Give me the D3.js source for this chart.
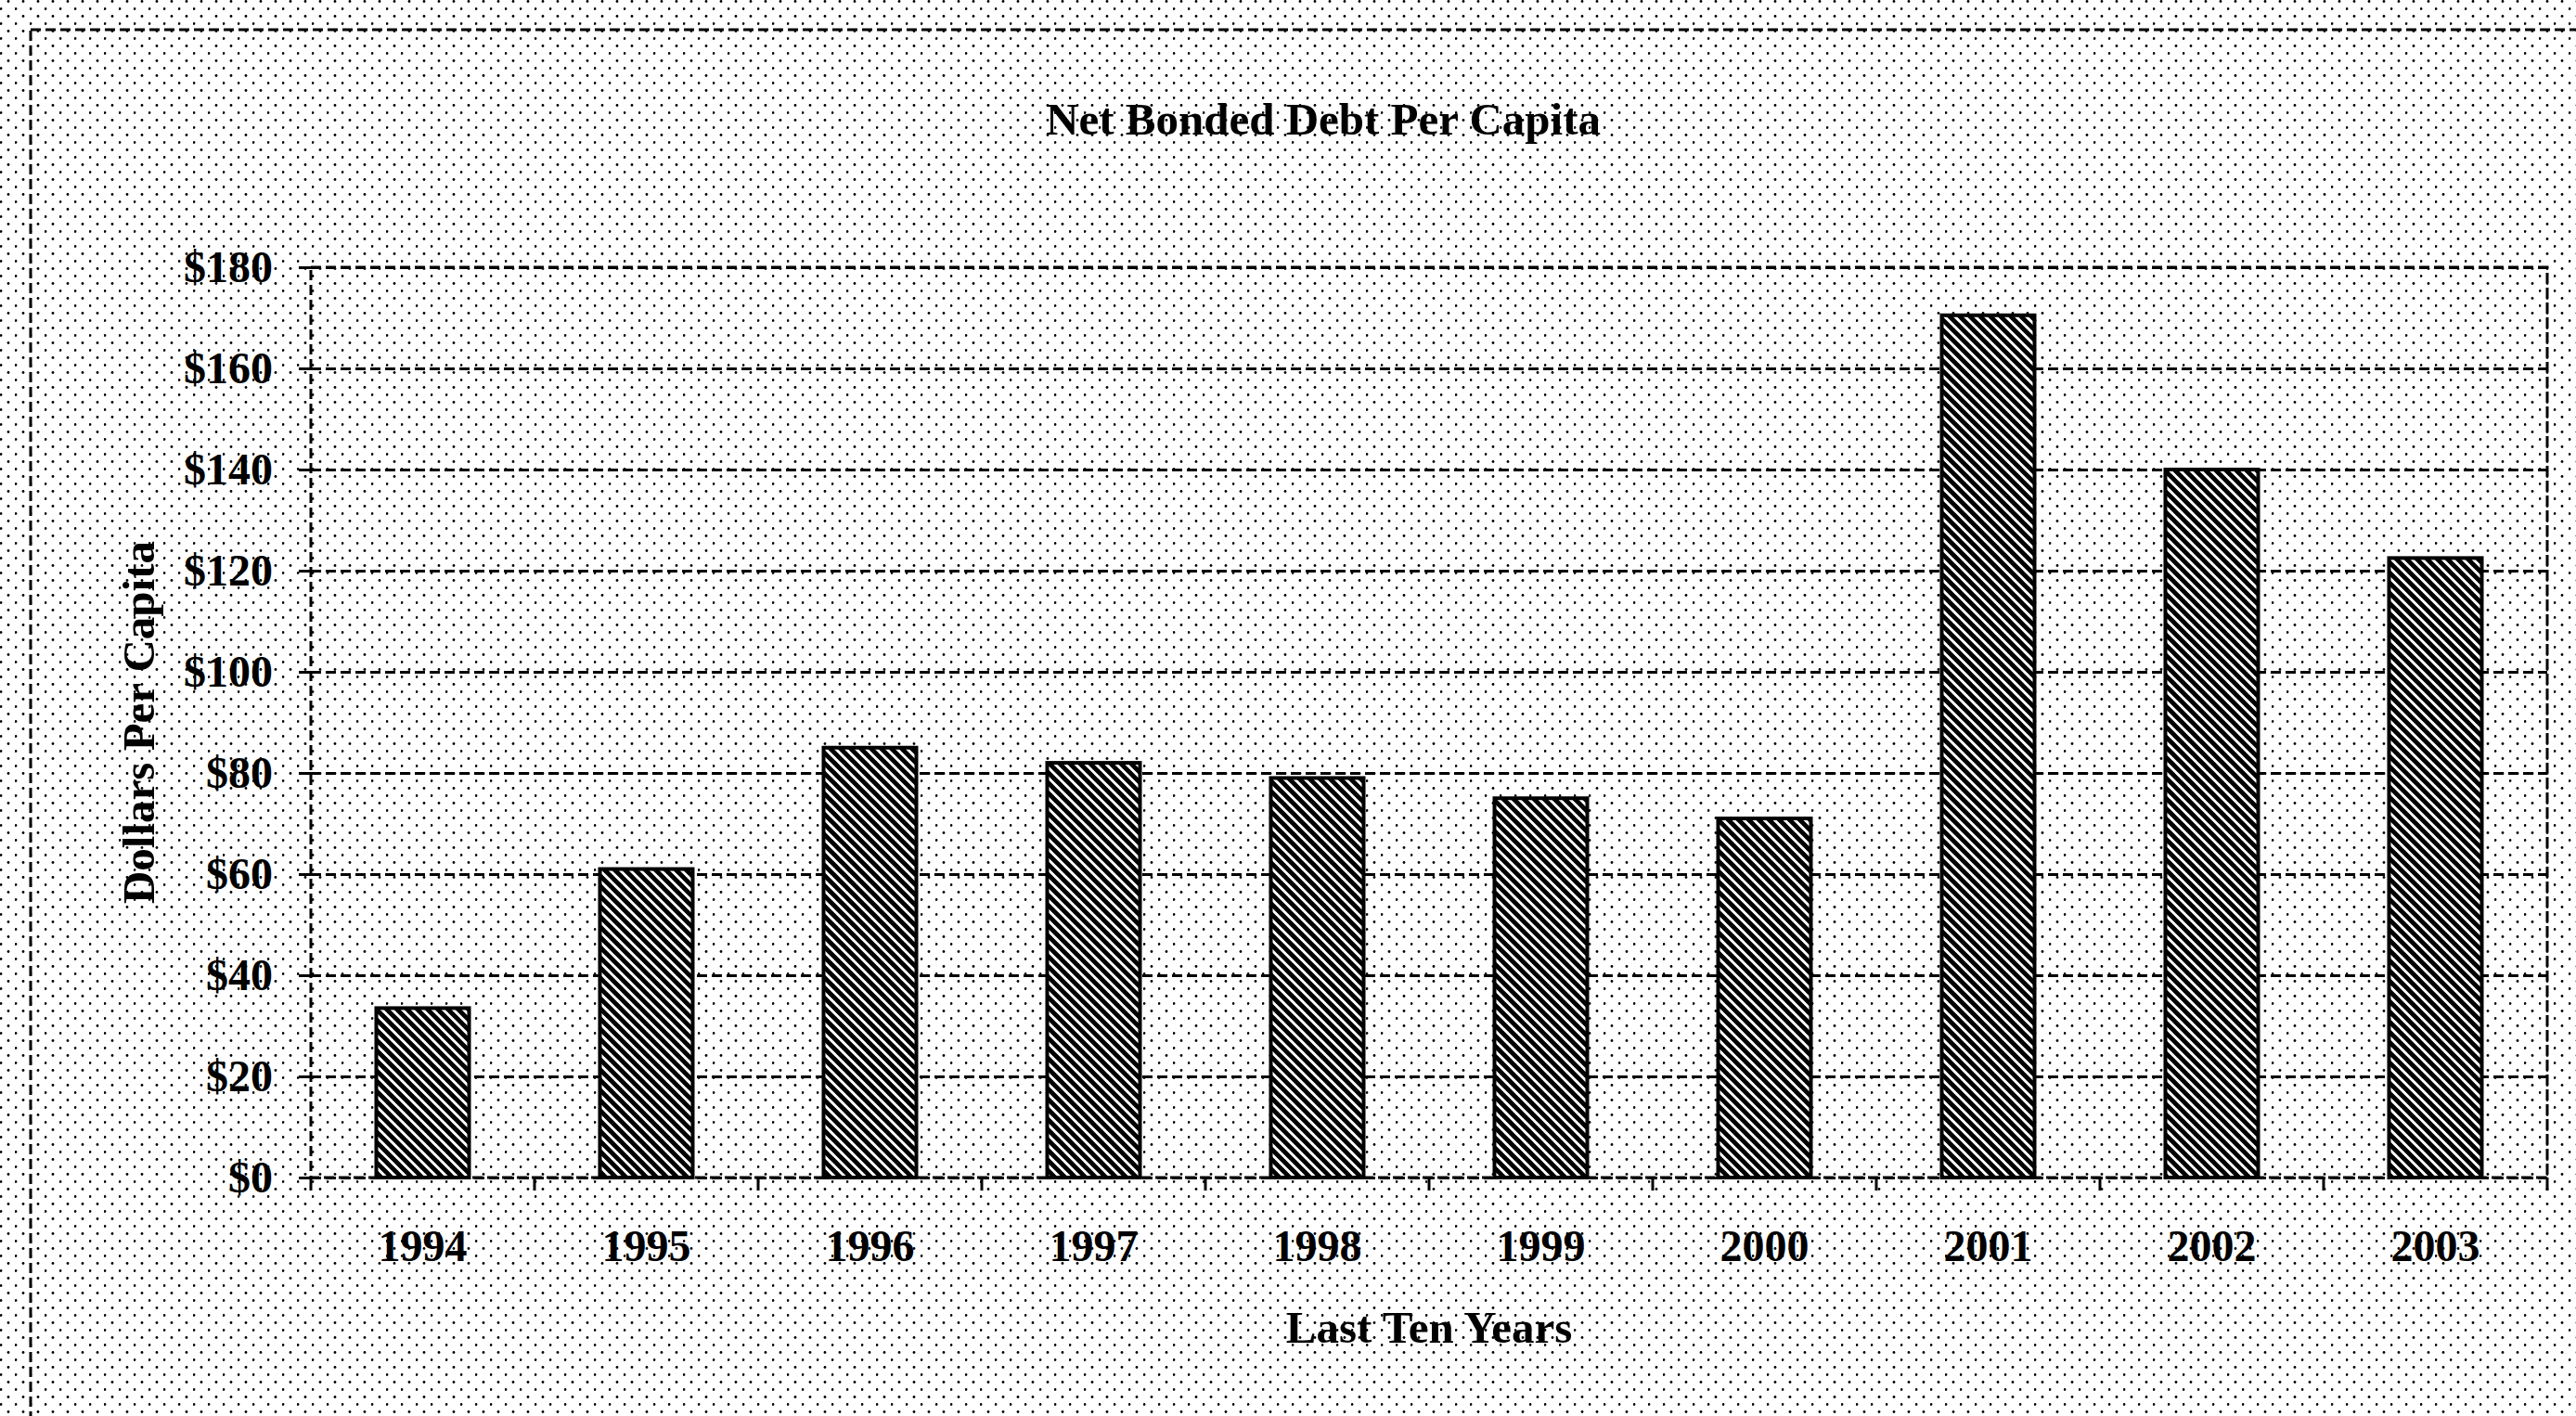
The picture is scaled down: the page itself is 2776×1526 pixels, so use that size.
<!DOCTYPE html>
<html>
<head>
<meta charset="utf-8">
<title>Net Bonded Debt Per Capita</title>
<script src="https://cdn.jsdelivr.net/npm/d3@7"></script>
<style>
  html, body { margin: 0; padding: 0; background: #fff; }
  svg { display: block; }
  text { font-family: "Liberation Serif", "Times New Roman", serif; font-weight: bold; fill: #000; }
</style>
</head>
<body>
<script>
// ---- data ----
const years = ["1994", "1995", "1996", "1997", "1998", "1999", "2000", "2001", "2002", "2003"];
const debtPerCapita = [33.5, 61, 85, 82, 79, 75, 71, 170.5, 140, 122.5];
const yTickValues = [0, 20, 40, 60, 80, 100, 120, 140, 160, 180];
const yTickLabels = ["$0", "$20", "$40", "$60", "$80", "$100", "$120", "$140", "$160", "$180"];
const chartTitle = "Net Bonded Debt Per Capita";
const xAxisTitle = "Last Ten Years";
const yAxisTitle = "Dollars Per Capita";

// ---- layout ----
const W = 2776, H = 1526;
const plot = { left: 335, top: 288, right: 2745, bottom: 1269 };
const dash = "11,5";

const svg = d3.select("body").append("svg")
  .attr("width", W).attr("height", H)
  .attr("viewBox", `0 0 ${W} ${H}`);

const defs = svg.append("defs");

// sparse dot fill used for the chart and plot areas
const dots = defs.append("pattern")
  .attr("id", "dotFill")
  .attr("patternUnits", "userSpaceOnUse")
  .attr("width", 16).attr("height", 16);
dots.append("rect").attr("width", 16).attr("height", 16).attr("fill", "#fff");
dots.append("circle").attr("cx", 9).attr("cy", 1.5).attr("r", 1.4).attr("fill", "#000");
dots.append("circle").attr("cx", 1).attr("cy", 9.5).attr("r", 1.4).attr("fill", "#000");

// downward diagonal hatch for the bars
const hatchSize = 11;
const hatch = defs.append("pattern")
  .attr("id", "hatchFill")
  .attr("patternUnits", "userSpaceOnUse")
  .attr("width", hatchSize).attr("height", hatchSize);
hatch.append("rect").attr("width", hatchSize).attr("height", hatchSize).attr("fill", "#fff");
hatch.append("path")
  .attr("d", `M-2,-2 L${hatchSize + 2},${hatchSize + 2} M-2,${hatchSize - 2} L2,${hatchSize + 2} M${hatchSize - 2},-2 L${hatchSize + 2},2`)
  .attr("stroke", "#000").attr("stroke-width", 4.8);

// background
svg.append("rect").attr("width", W).attr("height", H).attr("fill", "url(#dotFill)");

// outer chart border (runs past the right and bottom edges)
svg.append("rect")
  .attr("x", 33).attr("y", 32)
  .attr("width", W + 40).attr("height", H + 40)
  .attr("fill", "none").attr("stroke", "#000")
  .attr("stroke-width", 3).attr("stroke-dasharray", dash);

// ---- scales ----
const x = d3.scaleBand()
  .domain(years)
  .range([plot.left, plot.right])
  .paddingInner(0.585)
  .paddingOuter(0.2925);

const y = d3.scaleLinear()
  .domain([0, 180])
  .range([plot.bottom, plot.top]);

// ---- gridlines ----
svg.append("g")
  .attr("transform", `translate(${plot.left},0)`)
  .call(d3.axisLeft(y).tickValues(yTickValues).tickSize(-(plot.right - plot.left)).tickFormat(""))
  .call(g => g.select(".domain").remove())
  .call(g => g.selectAll(".tick line")
    .attr("stroke", "#000").attr("stroke-width", 3).attr("stroke-dasharray", dash));

// plot area border
svg.append("rect")
  .attr("x", plot.left).attr("y", plot.top)
  .attr("width", plot.right - plot.left).attr("height", plot.bottom - plot.top)
  .attr("fill", "none").attr("stroke", "#000")
  .attr("stroke-width", 3).attr("stroke-dasharray", dash);

// ---- bars ----
svg.append("g")
  .selectAll("rect")
  .data(years.map((yr, i) => ({ yr, v: debtPerCapita[i] })))
  .join("rect")
  .attr("x", d => x(d.yr))
  .attr("y", d => y(d.v))
  .attr("width", x.bandwidth())
  .attr("height", d => y(0) - y(d.v))
  .attr("fill", "url(#hatchFill)")
  .attr("stroke", "#000")
  .attr("stroke-width", 4);

// ---- y axis ----
svg.append("g")
  .attr("transform", `translate(${plot.left},0)`)
  .call(d3.axisLeft(y)
    .tickValues(yTickValues)
    .tickSize(13)
    .tickPadding(28)
    .tickFormat((d, i) => yTickLabels[i]))
  .call(g => g.select(".domain").remove())
  .call(g => g.selectAll(".tick line").attr("stroke", "#000").attr("stroke-width", 3))
  .call(g => g.selectAll(".tick text")
    .attr("font-family", "Liberation Serif, Times New Roman, serif")
    .attr("font-weight", "bold")
    .attr("font-size", 48)
    .attr("fill", "#000"));

// ---- x axis ----
svg.append("g")
  .attr("transform", `translate(0,${plot.bottom})`)
  .call(d3.axisBottom(x).tickSize(0).tickPadding(56))
  .call(g => g.select(".domain").remove())
  .call(g => g.selectAll(".tick text")
    .attr("font-family", "Liberation Serif, Times New Roman, serif")
    .attr("font-weight", "bold")
    .attr("font-size", 48)
    .attr("fill", "#000"));

// category separators below the axis
const boundaries = years.map(yr => x(yr) - x.step() * x.paddingInner() / 2)
  .concat([x(years[years.length - 1]) + x.bandwidth() + x.step() * x.paddingInner() / 2]);
svg.append("g")
  .selectAll("line")
  .data(boundaries)
  .join("line")
  .attr("x1", d => d).attr("x2", d => d)
  .attr("y1", plot.bottom).attr("y2", plot.bottom + 14)
  .attr("stroke", "#000").attr("stroke-width", 3);

// ---- titles ----
svg.append("text")
  .attr("x", 1426).attr("y", 145)
  .attr("text-anchor", "middle")
  .attr("font-size", 49)
  .text(chartTitle);

svg.append("text")
  .attr("x", (plot.left + plot.right) / 2).attr("y", 1447)
  .attr("text-anchor", "middle")
  .attr("font-size", 49)
  .text(xAxisTitle);

svg.append("text")
  .attr("transform", `translate(166,${(plot.top + plot.bottom) / 2}) rotate(-90)`)
  .attr("text-anchor", "middle")
  .attr("font-size", 49)
  .text(yAxisTitle);
</script>
</body>
</html>
